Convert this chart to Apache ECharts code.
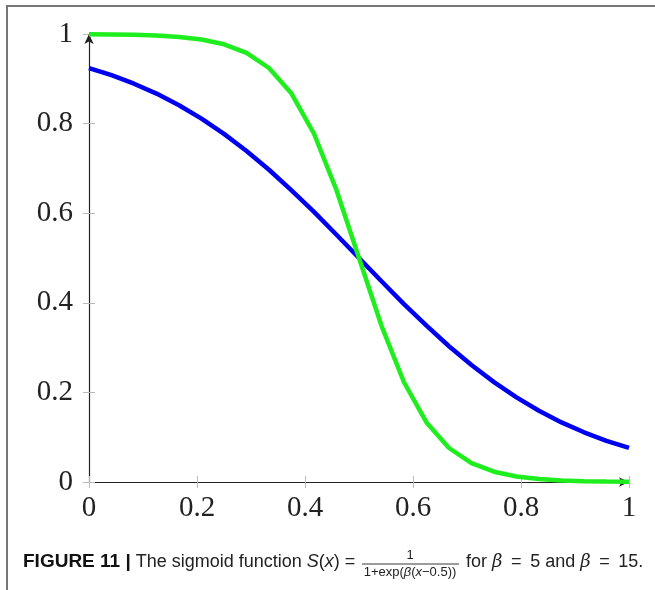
<!DOCTYPE html>
<html>
<head>
<meta charset="utf-8">
<script src="https://cdn.jsdelivr.net/npm/echarts@6/dist/echarts.min.js"></script>
<style>html,body{margin:0;padding:0;background:#fff;}#c{width:655px;height:590px;}</style>
</head>
<body>
<div id="c"></div>
<script>
// sample positions (25 samples on [0,1])
var xValues = [0, 0.0417, 0.0833, 0.125, 0.1667, 0.2083, 0.25, 0.2917, 0.3333, 0.375, 0.4167, 0.4583, 0.5,
  0.5417, 0.5833, 0.625, 0.6667, 0.7083, 0.75, 0.7917, 0.8333, 0.875, 0.9167, 0.9583, 1];
// beta = 5 (blue)
var blueValues = [0.924, 0.908, 0.889, 0.867, 0.841, 0.811, 0.777, 0.739, 0.697, 0.651, 0.603, 0.552, 0.500,
  0.448, 0.397, 0.349, 0.303, 0.261, 0.223, 0.189, 0.159, 0.133, 0.111, 0.092, 0.076];
// beta = 15 (green)
var greenValues = [0.9994, 0.9990, 0.9981, 0.9964, 0.9933, 0.9876, 0.9770, 0.9579, 0.9241, 0.8670, 0.7773, 0.6514, 0.5000,
  0.3486, 0.2227, 0.1330, 0.0759, 0.0421, 0.0230, 0.0124, 0.0067, 0.0036, 0.0019, 0.0010, 0.0006];
var xTicks = [0, 0.2, 0.4, 0.6, 0.8, 1];
var yTicks = [0, 0.2, 0.4, 0.6, 0.8, 1];

function pairs(xs, ys){ return xs.map(function(x,i){ return [x, ys[i]]; }); }

var chart = echarts.init(document.getElementById('c'), null, {renderer:'canvas'});
var tickFont = {fontFamily:'"Liberation Serif", serif', fontSize:29, color:'#222'};
var capFont = '"Liberation Sans", Arial, sans-serif';
var capSize = 18;
var capY = 562;

function fmt(v){ return String(+v.toFixed(1)); }

var option = {
  animation:false,
  backgroundColor:'#fff',
  grid:{left:89, right:26, top:34, bottom:108, containLabel:false},
  xAxis:[{
    type:'value', min:xTicks[0], max:xTicks[xTicks.length-1], interval:0.2,
    axisLine:{show:true, onZero:false, lineStyle:{color:'#222', width:1.2}, symbol:['none','arrow'], symbolSize:[7,10]},
    axisTick:{show:true, inside:false, length:6, lineStyle:{color:'#bbb', width:1}},
    axisLabel:Object.assign({margin:12, formatter:fmt}, tickFont),
    splitLine:{show:false}
  },{
    type:'value', min:0, max:1, interval:0.2, position:'bottom',
    axisLine:{show:false}, axisLabel:{show:false}, splitLine:{show:false},
    axisTick:{show:true, inside:true, length:6, lineStyle:{color:'#bbb', width:1}}
  }],
  yAxis:[{
    type:'value', min:yTicks[0], max:yTicks[yTicks.length-1], interval:0.2,
    axisLine:{show:true, onZero:false, lineStyle:{color:'#222', width:1.2}, symbol:['none','arrow'], symbolSize:[7,10]},
    axisTick:{show:true, inside:false, length:6, lineStyle:{color:'#bbb', width:1}},
    axisLabel:Object.assign({margin:16, formatter:fmt}, tickFont),
    splitLine:{show:false}
  },{
    type:'value', min:0, max:1, interval:0.2, position:'left',
    axisLine:{show:false}, axisLabel:{show:false}, splitLine:{show:false},
    axisTick:{show:true, inside:true, length:6, lineStyle:{color:'#bbb', width:1}}
  }],
  series:[
    {type:'line', data:pairs(xValues, blueValues), showSymbol:false, symbol:'none', smooth:false,
     lineStyle:{color:'#0000f0', width:4.5}, z:3, clip:false},
    {type:'line', data:pairs(xValues, greenValues), showSymbol:false, symbol:'none', smooth:false,
     lineStyle:{color:'#1eee1e', width:4.5}, z:4, clip:false}
  ],
  graphic:[
    {type:'line', shape:{x1:7, y1:6, x2:7, y2:590}, style:{stroke:'#777', lineWidth:2}, silent:true},
    {type:'line', shape:{x1:6, y1:6, x2:655, y2:6}, style:{stroke:'#777', lineWidth:2}, silent:true},
    {type:'text', x:23, y:capY, style:{
      text:'{b|FIGURE 11 |} The sigmoid function {i|S}({i|x}) =',
      font: capSize + 'px ' + capFont, fill:'#222', verticalAlign:'middle', textVerticalAlign:'middle',
      rich:{
        b:{fontWeight:'bold', fontSize:19, fontFamily:capFont, fill:'#111'},
        i:{fontStyle:'italic', fontSize:capSize, fontFamily:capFont, fill:'#222'}
      }}},
    {type:'text', x:410, y:capY, style:{text:'1', font:'13px ' + capFont, fill:'#222', textAlign:'center', verticalAlign:'bottom', textVerticalAlign:'bottom'}},
    {type:'line', shape:{x1:362, y1:capY + 2, x2:459, y2:capY + 2}, style:{stroke:'#222', lineWidth:0.9}},
    {type:'text', x:410, y:capY + 4, style:{
      text:'1+exp({i|β}({i|x}−0.5))', font:'13px ' + capFont, fill:'#222', textAlign:'center', verticalAlign:'top', textVerticalAlign:'top',
      rich:{i:{fontStyle:'italic', fontSize:13, fontFamily:capFont}}}},
    {type:'text', x:466, y:capY, style:{
      text:'for {g|β} \u2009=\u2009 5 and {g|β} \u2009=\u2009 15.', font: capSize + 'px ' + capFont, fill:'#222',
      verticalAlign:'middle', textVerticalAlign:'middle',
      rich:{g:{fontStyle:'italic', fontSize:capSize, fontFamily:'"DejaVu Serif", serif'}}}}
  ]
};
chart.setOption(option);
</script>
</body>
</html>
